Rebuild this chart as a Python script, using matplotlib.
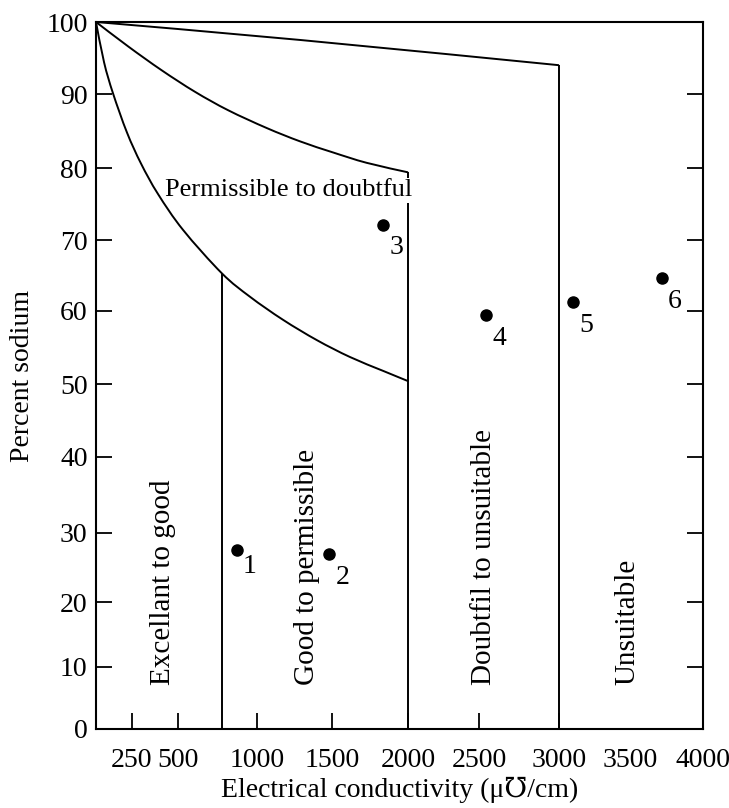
import numpy as np
import matplotlib
matplotlib.use("Agg")
import matplotlib.pyplot as plt
from matplotlib.path import Path
from matplotlib.patches import PathPatch

plt.rcParams["font.family"] = ["Liberation Serif", "DejaVu Serif"]

# ---- data -------------------------------------------------------------
# upper bound of the "Doubtful to unsuitable" field
upper_ec = [0, 1290, 3000]
upper_na = [100, 97.5, 94.0]

# upper bound of the "Permissible to doubtful" field
middle_ec = [0, 224, 411, 608, 818, 1065, 1287, 1507, 1728, 2000]
middle_na = [100, 96.6, 93.3, 90.3, 87.8, 85.4, 83.6, 82.1, 80.7, 79.4]

# lower bound of the "Permissible to doubtful" field
lower_ec = [0, 56, 118, 215, 299, 391, 532, 778, 956, 1173, 1400, 1618, 1836, 2000]
lower_na = [100, 94.4, 90.1, 84.8, 80.6, 76.4, 71.4, 65.3, 62.0, 58.8, 56.0, 53.7, 51.8, 50.4]

# vertical class limits: EC value, top of the line
limit_ec = [780, 2000, 3000]
limit_top = [65.3, 79.4, 94.0]

# water samples
sample_ids = ["1", "2", "3", "4", "5", "6"]
sample_ec = [871, 1482, 1838, 2542, 3101, 3717]
sample_na = [27.6, 26.9, 72.1, 59.4, 61.2, 64.6]

# field names
field_names = ["Excellant to good", "Good to permissible",
               "Doubtfil to unsuitable", "Unsuitable"]
field_ec = [418, 1332, 2529, 3479]
top_field = "Permissible to doubtful"

x_ticks = [250, 500, 1000, 1500, 2000, 2500, 3000, 3500, 4000]
y_ticks = [0, 10, 20, 30, 40, 50, 60, 70, 80, 90, 100]

# ---- axis scales (the printed diagram's graduations are not evenly spaced)
x_knots = np.array([0, 250, 500, 1000, 1500, 2000, 2500, 3000, 3500, 4000], float)
x_pos = np.array([0, 36, 82, 161, 236, 312, 383, 463, 534, 607], float)
y_knots = np.array([0, 10, 20, 30, 40, 50, 60, 70, 80, 90, 100], float)
y_pos = np.array([0, 62, 127, 196, 272, 345, 418, 489, 561, 635, 707], float)


def make_scale(knots, pos):
    def fwd(v):
        v = np.asarray(v, float)
        out = np.interp(v, knots, pos)
        lo = v < knots[0]
        hi = v > knots[-1]
        out = np.where(lo, pos[0] + (v - knots[0]) * (pos[1] - pos[0]) / (knots[1] - knots[0]), out)
        out = np.where(hi, pos[-1] + (v - knots[-1]) * (pos[-1] - pos[-2]) / (knots[-1] - knots[-2]), out)
        return out

    def inv(p):
        p = np.asarray(p, float)
        out = np.interp(p, pos, knots)
        lo = p < pos[0]
        hi = p > pos[-1]
        out = np.where(lo, knots[0] + (p - pos[0]) * (knots[1] - knots[0]) / (pos[1] - pos[0]), out)
        out = np.where(hi, knots[-1] + (p - pos[-1]) * (knots[-1] - knots[-2]) / (pos[-1] - pos[-2]), out)
        return out

    return fwd, inv


x_fwd, x_inv = make_scale(x_knots, x_pos)
y_fwd, y_inv = make_scale(y_knots, y_pos)


def smooth_curve(xs, ys):
    """Smooth Bezier path through the given points (Catmull-Rom tangents,
    built in the scaled space so the curve looks smooth on the page)."""
    P = np.column_stack([x_fwd(xs), y_fwd(ys)])
    n = len(P)
    verts = [P[0]]
    codes = [Path.MOVETO]
    for i in range(n - 1):
        p0 = P[i - 1] if i > 0 else P[i]
        p1, p2 = P[i], P[i + 1]
        p3 = P[i + 2] if i + 2 < n else P[i + 1]
        verts += [p1 + (p2 - p0) / 6.0, p2 - (p3 - p1) / 6.0, p2]
        codes += [Path.CURVE4] * 3
    V = np.array(verts)
    return Path(np.column_stack([x_inv(V[:, 0]), y_inv(V[:, 1])]), codes)


# ---- figure -----------------------------------------------------------
W, H = 729, 808
fig = plt.figure(figsize=(W / 100, H / 100), dpi=100)
ax = fig.add_axes([96 / W, 1 - 729 / H, (703 - 96) / W, (729 - 22) / H])

ax.set_xscale("function", functions=(x_fwd, x_inv))
ax.set_yscale("function", functions=(y_fwd, y_inv))
ax.set_xlim(0, 4000)
ax.set_ylim(0, 100)

lw = 1.4
for xs, ys in [(upper_ec, upper_na), (middle_ec, middle_na), (lower_ec, lower_na)]:
    ax.add_patch(PathPatch(smooth_curve(xs, ys), fill=False, ec="black", lw=lw,
                           zorder=3, capstyle="butt"))
ax.vlines(limit_ec, 0, limit_top, color="black", lw=lw, zorder=1)

ax.plot(sample_ec, sample_na, "o", color="black", ms=8, zorder=5)
for i, (sid, xv, yv) in enumerate(zip(sample_ids, sample_ec, sample_na)):
    dy = -12 if i == 0 else -16.5
    ax.annotate(sid, (xv, yv), xytext=(9.5, dy), textcoords="offset points",
                ha="center", va="center", fontsize=20)

for name, xv in zip(field_names, field_ec):
    ax.text(xv, 7.1, name, rotation=90, ha="center", va="bottom", fontsize=21)

ax.text(429, 76.9, top_field, ha="left", va="center", fontsize=19, zorder=2,
        bbox=dict(boxstyle="square,pad=0.05", fc="white", ec="none"))

# ---- axes decoration ----------------------------------------------------
ax.set_xticks(x_ticks)
ax.set_xticklabels([str(t) for t in x_ticks])
ax.set_yticks(y_ticks)
ax.set_yticklabels([str(t) for t in y_ticks])
ax.xaxis.set_minor_locator(matplotlib.ticker.NullLocator())
ax.yaxis.set_minor_locator(matplotlib.ticker.NullLocator())
ax.tick_params(axis="x", direction="in", length=11.5, width=1.3, labelsize=20, pad=14,
               top=False)
ax.tick_params(axis="y", direction="in", length=11.5, width=1.3, labelsize=20, pad=6,
               right=True)
for t in ax.xaxis.get_major_ticks()[-2:]:
    t.tick1line.set_visible(False)
for t in (ax.yaxis.get_major_ticks()[0], ax.yaxis.get_major_ticks()[-1]):
    t.tick1line.set_visible(False)
    t.tick2line.set_visible(False)

for s in ax.spines.values():
    s.set_linewidth(1.5)
    s.set_color("black")

ax.set_xlabel("Electrical conductivity (\u03bc\u2127/cm)", fontsize=20)
ax.xaxis.set_label_coords(0.5, -0.068)
ax.set_ylabel("Percent sodium", fontsize=20)
ax.yaxis.set_label_coords(-0.10, 0.5)

fig.savefig("out.png", dpi=100, facecolor="white")
